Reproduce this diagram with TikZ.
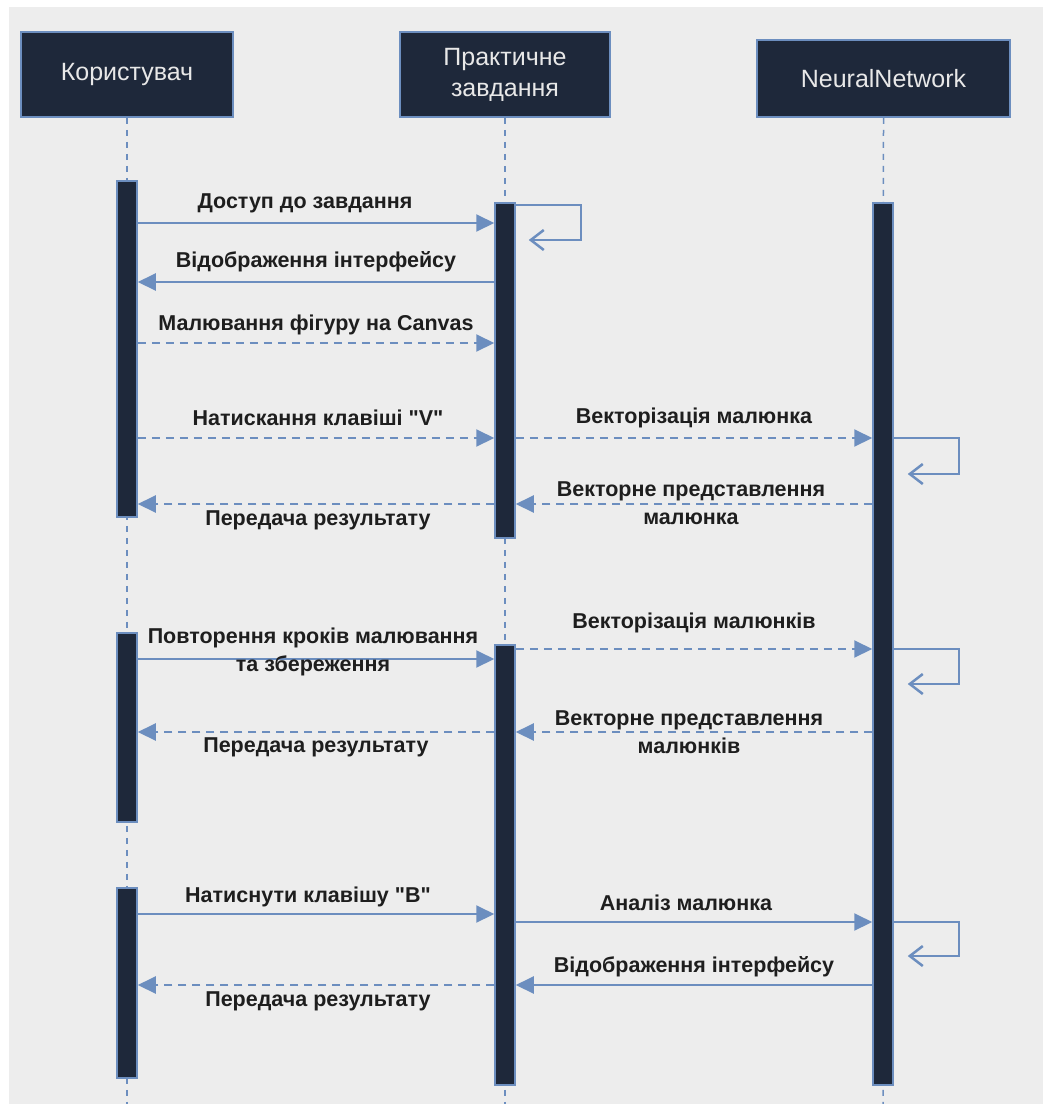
\documentclass[tikz,border=0pt]{standalone}
\usepackage{fontspec}
\setmainfont{Liberation Sans}[Ligatures=TeXOff]
\usetikzlibrary{arrows.meta}
\definecolor{navy}{HTML}{1E283A}
\definecolor{lineblue}{HTML}{6C8EBF}
\definecolor{bggrey}{HTML}{EDEDED}
\definecolor{headtext}{HTML}{E8E8E8}
\definecolor{labelcol}{HTML}{1E1E1E}
\tikzset{
  head/.style={draw=lineblue, line width=1.5pt, fill=navy, text=headtext, align=center, inner sep=0pt, font=\fontsize{25}{31}\selectfont},
  actbar/.style={draw=lineblue, line width=1.5pt, fill=navy, minimum width=20pt, inner sep=0pt},
  life/.style={draw=lineblue, line width=1.5pt, dash pattern=on 6pt off 6pt},
  msg/.style={draw=lineblue, line width=2pt, -{Triangle[length=18pt,width=17pt]}},
  rmsg/.style={msg, dash pattern=on 8pt off 6pt},
  selfmsg/.style={draw=lineblue, line width=2pt, -{Straight Barb[length=13pt,width=20pt,line width=2.5pt]}},
  lbl/.style={text=labelcol, align=center, inner sep=0pt, font=\bfseries\fontsize{21.5}{28.5}\selectfont}
}
\begin{document}
\begin{tikzpicture}[x=1pt,y=-1pt]
\useasboundingbox (0,0) rectangle (1043,1104);
\fill[white] (0,0) rectangle (1043,1104);
\fill[bggrey] (9,7) rectangle (1043,1104);
% headers
\node[head, minimum width=212pt, minimum height=85pt] (h1) at (127,74.5) {Користувач};
\node[head, minimum width=210pt, minimum height=85pt] (h2) at (505,74.5) {Практичне\\завдання};
\node[head, minimum width=253pt, minimum height=77pt] (h3) at (883.5,78.5) {NeuralNetwork};
% lifeline ends
\coordinate (e1) at (127,1104);
\coordinate (e2) at (505,1104);
\coordinate (e3) at (883,1104);
\draw[life] (h1.south) -- (e1);
\draw[life] (h2.south) -- (e2);
\draw[life] (h3.south) -- (e3);
% activation bars
\node[actbar, minimum height=336pt] (u1) at (127,349) {};
\node[actbar, minimum height=335pt] (t1) at (505,370.5) {};
\node[actbar, minimum height=882pt] (n1) at (883,644) {};
\node[actbar, minimum height=189pt] (u2) at (127,727.5) {};
\node[actbar, minimum height=440pt] (t2) at (505,865) {};
\node[actbar, minimum height=190pt] (u3) at (127,983) {};
% block 1
\draw[msg] (u1.east |- 0,223) -- (t1.west |- 0,223);
\node[lbl] (l1) at (305,203) {Доступ до завдання};
\draw[selfmsg] (t1.east |- 0,205) -- ++(65,0) -- ++(0,35) -- ++(-52,0);
\draw[msg] (t1.west |- 0,282) -- (u1.east |- 0,282);
\node[lbl] (l2) at (316,262) {Відображення інтерфейсу};
\draw[rmsg] (u1.east |- 0,343) -- (t1.west |- 0,343);
\node[lbl] (l3) at (316,325) {Малювання фігуру на Canvas};
\draw[rmsg] (u1.east |- 0,438) -- (t1.west |- 0,438);
\node[lbl] (l4) at (318,418) {Натискання клавіші "V"};
\draw[rmsg] (t1.east |- 0,438) -- (n1.west |- 0,438);
\node[lbl] (l5) at (694,418) {Векторізація малюнка};
\draw[selfmsg] (n1.east |- 0,438) -- ++(65,0) -- ++(0,36) -- ++(-51,0);
\draw[rmsg] (n1.west |- 0,504) -- (t1.east |- 0,504);
\node[lbl] (l6) at (691,503) {Векторне представлення\\малюнка};
\draw[rmsg] (t1.west |- 0,504) -- (u1.east |- 0,504);
\node[lbl] (l7) at (318,520) {Передача результату};
% block 2
\draw[msg] (u2.east |- 0,659) -- (t2.west |- 0,659);
\node[lbl] (l8) at (313,652) {Повторення кроків малювання\\та збереження};
\draw[rmsg] (t2.east |- 0,649) -- (n1.west |- 0,649);
\node[lbl] (l9) at (694,623) {Векторізація малюнків};
\draw[selfmsg] (n1.east |- 0,649) -- ++(65,0) -- ++(0,35) -- ++(-51,0);
\draw[rmsg] (n1.west |- 0,732) -- (t2.east |- 0,732);
\node[lbl] (l10) at (689,732) {Векторне представлення\\малюнків};
\draw[rmsg] (t2.west |- 0,732) -- (u2.east |- 0,732);
\node[lbl] (l11) at (316,747) {Передача результату};
% block 3
\draw[msg] (u3.east |- 0,914) -- (t2.west |- 0,914);
\node[lbl] (l12) at (308,897) {Натиснути клавішу "B"};
\draw[msg] (t2.east |- 0,922) -- (n1.west |- 0,922);
\node[lbl] (l13) at (686,903) {Аналіз малюнка};
\draw[selfmsg] (n1.east |- 0,922) -- ++(65,0) -- ++(0,34) -- ++(-51,0);
\draw[msg] (n1.west |- 0,985) -- (t2.east |- 0,985);
\node[lbl] (l14) at (694,967) {Відображення інтерфейсу};
\draw[rmsg] (t2.west |- 0,985) -- (u3.east |- 0,985);
\node[lbl] (l15) at (318,1001) {Передача результату};
\end{tikzpicture}
\end{document}
